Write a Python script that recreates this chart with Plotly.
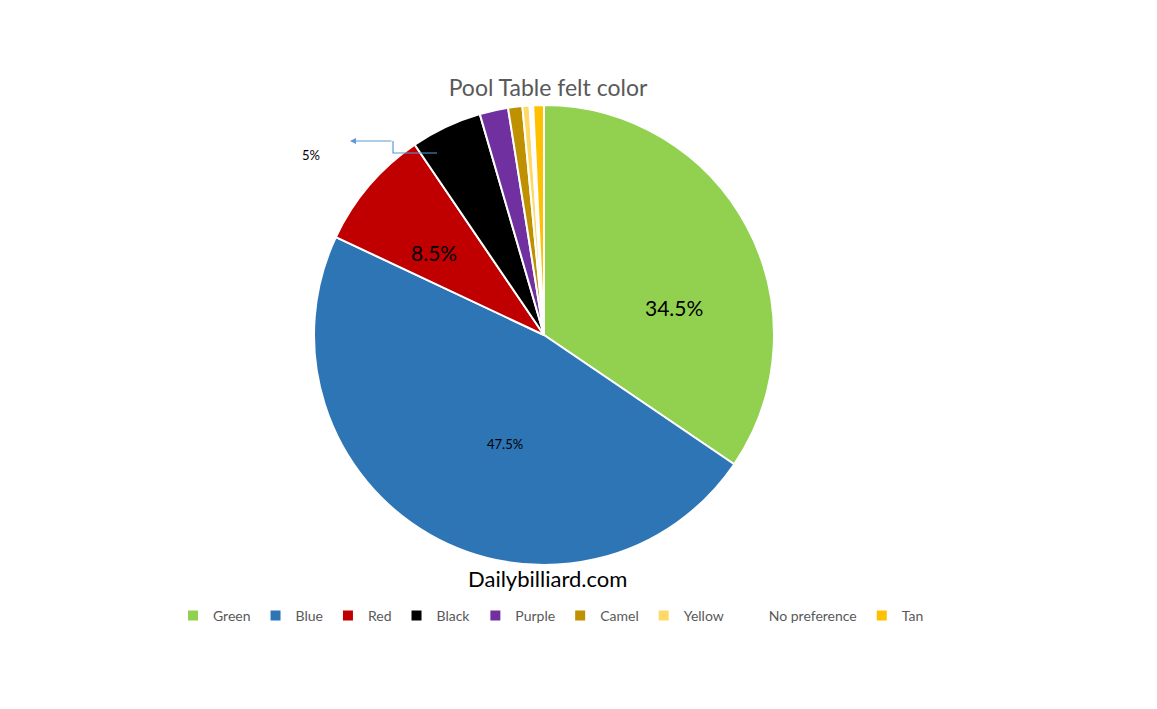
import plotly.graph_objects as go

categories = ["Green", "Blue", "Red", "Black", "Purple", "Camel", "Yellow", "No preference", "Tan"]
values = [34.5, 47.5, 8.5, 5.0, 2.0, 1.0, 0.5, 0.25, 0.75]
colors = ["#92D050", "#2E75B6", "#C00000", "#000000", "#7030A0", "#BF9000", "#FFD966", "#FFFFFF", "#FFC000"]
label_text = ["34.5%", "47.5%", "8.5%", "5%"]
title_text = "Pool Table felt color"
source_text = "Dailybilliard.com"

W, H = 1157, 709
OFF = 8  # page body margin offset
cx, cy, r = 544 - OFF, 335 - OFF, 230


def px(x):
    return (x - OFF) / W


def py(y):
    return 1 - (y - OFF) / H


fig = go.Figure(go.Pie(
    labels=categories,
    values=values,
    sort=False,
    direction="clockwise",
    rotation=0,
    marker=dict(colors=colors, line=dict(color="white", width=2)),
    textinfo="none",
    hoverinfo="label+percent",
    domain=dict(x=[(cx - r) / W, (cx + r) / W], y=[1 - (cy + r) / H, 1 - (cy - r) / H]),
    showlegend=True,
))

label_specs = [  # (text, x, y, size)
    (label_text[0], 674, 307, 21),
    (label_text[1], 505, 444, 13),
    (label_text[2], 434, 252, 21),
    (label_text[3], 311, 155, 13),
]

annotations = [
    dict(text=t, x=px(x), y=py(y), xref="paper", yref="paper", showarrow=False,
         xanchor="center", yanchor="middle",
         font=dict(size=s, color="black", family="Lato"))
    for t, x, y, s in label_specs
]
annotations += [
    dict(text=source_text, x=px(547), y=py(578), xref="paper", yref="paper",
         xanchor="center", yanchor="middle",
         showarrow=False, font=dict(size=22, color="black", family="Lato")),
    dict(text="", x=px(350), y=py(141), xref="paper", yref="paper",
         showarrow=True, ax=43, ay=0, arrowhead=2, arrowsize=1, arrowwidth=1.2,
         arrowcolor="#5B9BD5"),
]

fig.update_layout(
    width=W, height=H,
    margin=dict(l=0, r=0, t=0, b=0),
    paper_bgcolor="white",
    font=dict(family="Lato", color="#595959"),
    title=dict(text=title_text, x=px(548), xanchor="center", y=py(88), yanchor="middle",
               font=dict(size=23, color="#595959", family="Lato")),
    legend=dict(orientation="h", x=px(551), xanchor="center", y=py(616), yanchor="middle",
                font=dict(size=14, color="#595959", family="Lato"), traceorder="normal",
                itemwidth=30),
    annotations=annotations,
    shapes=[
        dict(type="path", xref="paper", yref="paper",
             path=f"M {px(437)} {py(153)} L {px(393)} {py(153)} L {px(393)} {py(141)}",
             line=dict(color="#5B9BD5", width=1.2)),
    ],
)

fig.write_html("out.html")
